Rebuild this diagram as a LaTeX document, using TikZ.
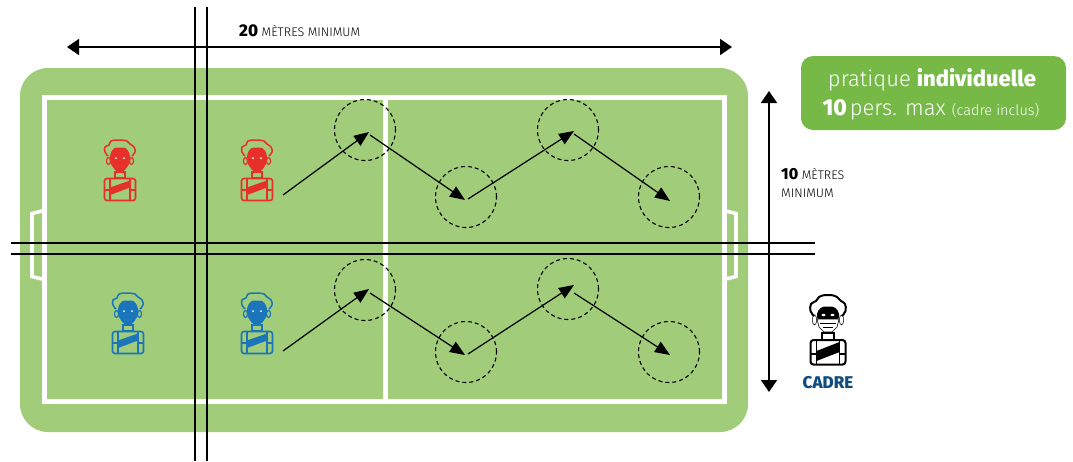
\documentclass[tikz,border=0pt]{standalone}
\usepackage{fontspec}
\setmainfont{Fira Sans}[BoldFont={Fira Sans ExtraBold}]
\newfontfamily\lightfont{Fira Sans Light}
\usetikzlibrary{arrows.meta}
\definecolor{terrain}{HTML}{A1CC7A}
\definecolor{badge}{HTML}{76B947}
\definecolor{rouge}{HTML}{E8302A}
\definecolor{bleu}{HTML}{1B75BB}
\definecolor{marine}{HTML}{0F4C81}
\tikzset{
  joueur/.pic={
    \draw[line width=1.5pt,pic actions] plot[smooth,tension=.7] coordinates
      {(-12,-14) (-15,-18) (-15,-23) (-11,-25) (-9,-29) (-3,-30) (2,-30) (7,-29) (10,-26) (14,-23) (15,-18) (12,-14)};
    \draw[line width=1.2pt,pic actions] (-11.5,-9) ellipse (2 and 3.5) (11.5,-9) ellipse (2 and 3.5);
    \fill[pic actions,rounded corners=3pt] (-6,-22.5) -- (6,-22.5) -- (10,-16) -- (10,-7) -- (3.5,2) -- (-3.5,2) -- (-10,-7) -- (-10,-16) -- cycle;
    \fill[white] (-4,-12) circle (1) (4,-12) circle (1);
    \draw[line width=1.3pt,pic actions] (-5,2) rectangle (5,8);
    \draw[line width=1.6pt,rounded corners=2.5pt,pic actions] (-15.5,8.5) rectangle (15.5,30.5);
    \draw[line width=1.3pt,pic actions] (-10,8.5) -- (-10,30.5) (10,8.5) -- (10,30.5) (-15.5,20) -- (-10,20) (10,20) -- (15.5,20);
    \fill[pic actions] (-10,17.5) -- (10,10.5) -- (10,17.5) -- (-10,25) -- cycle;
  },
  cadrefig/.pic={
    \draw[line width=2pt] plot[smooth,tension=.7] coordinates
      {(-14,-14) (-17.5,-19) (-17,-26) (-12,-29) (-9,-33) (-3,-35) (3,-35) (9,-33) (13,-29) (17,-26) (17.5,-19) (14,-14)};
    \draw[line width=.5pt] (-13.5,-10) ellipse (2.2 and 5) (13.5,-10) ellipse (2.2 and 5);
    \fill[black,rounded corners=2pt] (-11,-11) -- (-11,-18) -- (-6,-23.5) -- (6,-23.5) -- (11,-18) -- (11,-11) -- cycle;
    \fill[white] (-4.5,-15) ellipse (2 and 1.2) (4.5,-15) ellipse (2 and 1.2);
    \draw[line width=.6pt,fill=white] (-11,-11) -- (11,-11) -- (9,-3) -- (4,2) -- (-4,2) -- (-9,-3) -- cycle;
    \draw[line width=.5pt] (-8,-7) -- (8,-7) (-5,-3) -- (5,-3);
    \draw[line width=1.6pt] (-6,3) rectangle (6,9.5);
    \draw[line width=2pt,rounded corners=3pt] (-17.5,10) rectangle (17.5,34.5);
    \draw[line width=1.5pt] (-11.5,10) -- (-11.5,34.5) (11.5,10) -- (11.5,34.5) (-17.5,24) -- (-11.5,24) (11.5,24) -- (17.5,24);
    \fill[black] (-11.5,21) -- (11.5,12) -- (11.5,22) -- (-11.5,31) -- cycle;
  }
}
\begin{document}
\begin{tikzpicture}
[x=1pt,y=-1pt,
 ligne/.style={white,line width=5pt},
 cage/.style={white,line width=3.6pt,line join=miter},
 couloir/.style={black,line width=2.5pt},
 cercle/.style={circle,draw,dash pattern=on 4pt off 3pt,line width=1.1pt,minimum size=61pt,inner sep=0pt},
 fleche/.style={line width=1.2pt,-{Stealth[inset=0pt,length=15pt,width=12pt]}},
 cote/.style={line width=1.7pt,{Stealth[inset=0pt,length=12pt,width=16pt]}-{Stealth[inset=0pt,length=12pt,width=16pt]}},
 legende/.style={font=\lightfont\fontsize{12.5}{14}\selectfont,inner sep=0pt,anchor=west}]
\useasboundingbox (0,0) rectangle (1073,461);
\fill[terrain,rounded corners=28pt] (20,68) rectangle (748,432);
\draw[ligne] (44,97) rectangle (724,401);
\draw[ligne] (385,97) -- (385,401);
\draw[cage] (44,210.5) -- (32,213.5) -- (32,276.5) -- (44,279.5);
\draw[cage] (724,210.5) -- (736,213.5) -- (736,276.5) -- (724,279.5);
\draw[couloir] (195,7) -- (195,461);
\draw[couloir] (207,7) -- (207,461);
\draw[couloir] (11,243) -- (815,243);
\draw[couloir] (11,254) -- (815,254);
\pic[rouge] at (120,170) {joueur};
\pic[rouge] at (257,170) {joueur};
\pic[bleu] at (128,323) {joueur};
\pic[bleu] at (257,323) {joueur};
\pic at (828,330) {cadrefig};
\node[cercle] (r1) at (365,130) {};
\node[cercle] (r2) at (466,197) {};
\node[cercle] (r3) at (568,130) {};
\node[cercle] (r4) at (669,197) {};
\node[cercle] (b1) at (365,290) {};
\node[cercle] (b2) at (466,352) {};
\node[cercle] (b3) at (568,289) {};
\node[cercle] (b4) at (669,352) {};
\coordinate (rd) at (283,195);
\coordinate (bd) at (283,351);
\draw[fleche] (rd) -- ([shift={(4,2)}]r1.center);
\draw[fleche] ([shift={(5,5)}]r1.center) -- ([shift={(-1,3)}]r2.center);
\draw[fleche] ([shift={(2,2)}]r2.center) -- ([shift={(6,1)}]r3.center);
\draw[fleche] ([shift={(6,4)}]r3.center) -- ([shift={(1,4)}]r4.center);
\draw[fleche] (bd) -- ([shift={(4,-1)}]b1.center);
\draw[fleche] ([shift={(5,3)}]b1.center) -- ([shift={(-1,3)}]b2.center);
\draw[fleche] ([shift={(2,2)}]b2.center) -- ([shift={(6,-4)}]b3.center);
\draw[fleche] ([shift={(6,4)}]b3.center) -- ([shift={(1,3)}]b4.center);
\coordinate (h1) at (67,47);
\coordinate (h2) at (732,47);
\coordinate (v1) at (769,91);
\coordinate (v2) at (769,392);
\draw[cote] (h1) -- (h2);
\draw[cote] (v1) -- (v2);
\node[legende] (larg) at (239,31) {{\normalfont\bfseries\fontsize{17}{18}\selectfont 20} MÈTRES MINIMUM};
\node[legende] (long1) at (781,174) {{\normalfont\bfseries\fontsize{16}{16}\selectfont 10} MÈTRES};
\node[legende] (long2) at (781,193) {MINIMUM};
\node[inner sep=0pt] (cadre) at (828,383) {\bfseries\fontsize{17}{17}\selectfont\color{marine}CADRE};
\node[fill=badge,rounded corners=12pt,minimum width=265pt,minimum height=74pt,inner sep=0pt] (info) at (933.5,93) {};
\node[white,inner sep=0pt] (info1) at (932,80) {\lightfont\fontsize{22}{24}\selectfont pratique {\normalfont\bfseries individuelle}};
\node[white,inner sep=0pt] (info2) at (931,110) {{\normalfont\bfseries\fontsize{23}{24}\selectfont 10} \lightfont\fontsize{22}{24}\selectfont pers. max {\fontsize{14.5}{16}\selectfont (cadre inclus)}};
\end{tikzpicture}
\end{document}
